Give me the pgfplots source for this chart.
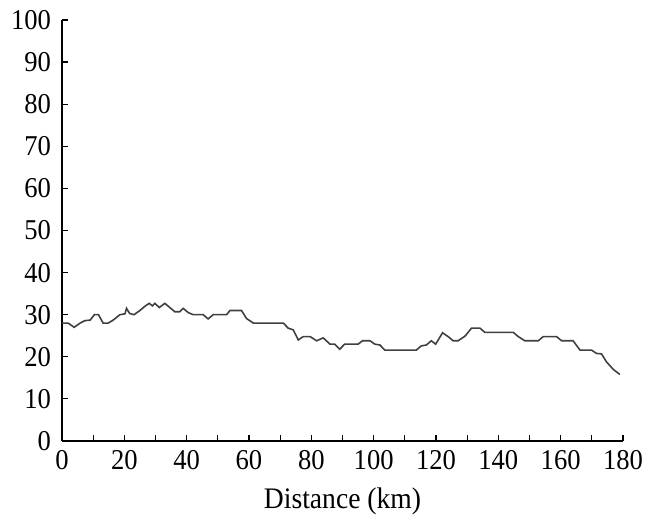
\documentclass[border=0pt]{standalone}
\usepackage{fontspec}
\setmainfont{Liberation Serif}
\usepackage{pgfplots}
\pgfplotsset{compat=1.18}
\begin{document}
\begin{tikzpicture}
\begin{axis}[
  scale only axis,
  width=280.5pt, height=210.5pt,
  xmin=0, xmax=180, ymin=0, ymax=100,
  axis lines=left,
  axis line style={line width=0.9pt,-},
  xtick={0,20,...,180},
  minor xtick={10,30,...,170},
  ytick={0,10,...,100},
  tick align=inside,
  major tick length=3pt, minor tick length=3pt,
  tick style={black, line width=0.6pt},
  every tick label/.style={font=\fontsize{13.3}{16}\selectfont, yscale=1.08},
  /pgf/number format/assume math mode=true,
  xlabel={Distance (km)},
  xlabel style={font=\fontsize{13.8}{16}\selectfont, yscale=1.08, at={(axis description cs:0.5,0)}, anchor=center, yshift=-28pt},
  xticklabel style={yshift=-1pt},
  yticklabel style={xshift=-2pt},
  clip=false,
]
\addplot[color=black!75, line width=0.8pt, mark=none] coordinates {
(0,28) (2,28) (3.9,27) (5.8,28) (7.4,28.6) (9,28.7) (10.4,30) (11.7,30) (13.2,28) (14.8,28) (16.4,28.7) (18.6,30) (20.2,30.2) (20.7,31.5) (21.7,30.3) (23.1,30) (25,31) (26.6,32) (28,32.7) (29,32.1) (29.8,32.7) (31.2,31.7) (33,32.7) (34.6,31.7) (36.2,30.7) (37.8,30.7) (38.9,31.5) (40.5,30.5) (42.1,30) (45.3,30) (46.9,29) (48.5,30) (52.8,30) (53.9,31) (57.6,31) (59.2,29.1) (61.4,28) (71,28) (72.6,26.8) (74.2,26.4) (75.8,24) (77.4,24.8) (79.6,24.8) (81.7,23.8) (83.8,24.5) (86,23) (87.5,23) (89.1,21.8) (90.7,23) (95,23) (96.4,23.8) (98.8,23.8) (100.4,23) (102,22.8) (103.6,21.6) (113.7,21.6) (115.3,22.6) (116.9,22.8) (118.5,23.8) (119.9,23) (122.1,25.7) (123.9,24.8) (125.5,23.8) (127.1,23.8) (129.3,24.9) (131.4,26.8) (134.1,26.8) (135.7,25.8) (144.8,25.8) (146.4,24.8) (148.5,23.8) (152.8,23.8) (154.4,24.8) (158.7,24.8) (160.3,23.8) (164,23.8) (166.2,21.6) (169.9,21.6) (171.5,20.8) (173.1,20.7) (174.7,18.8) (176.9,17) (179,15.8)
};
\end{axis}
\path (current axis.south west) ++(-31pt,-37.5pt) coordinate (bl);
\path (current axis.north east) ++(21pt,10pt) coordinate (tr);
\path (bl) rectangle (tr);
\end{tikzpicture}
\end{document}
